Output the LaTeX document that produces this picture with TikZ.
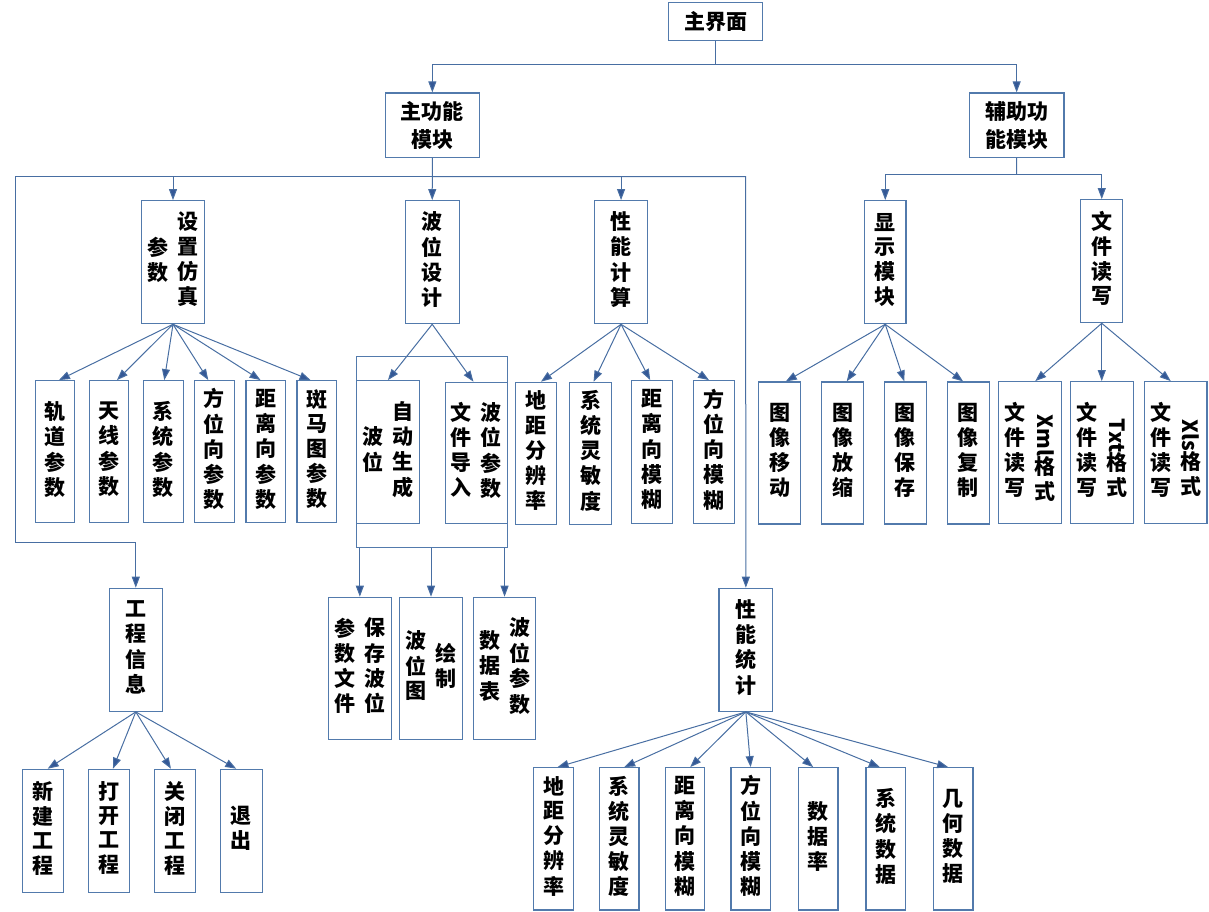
\documentclass[tikz,border=0pt]{standalone}
\usepackage{fontspec}
\newfontfamily\cjk{Noto Sans CJK SC}
\usetikzlibrary{arrows.meta}
\definecolor{lineblue}{RGB}{72,110,162}
\definecolor{tipblue}{RGB}{52,88,150}
\definecolor{boxblue}{RGB}{82,122,172}
\newcommand\vc[1]{\begin{tabular}{@{}c@{}}#1\end{tabular}}
\newcommand\bx[6]{\node[box,minimum width={#4pt-#2pt},minimum height={#5pt-#3pt}] (#1) at ({(#2+#4)/2},{(#3+#5)/2}) {#6};}
\newcommand\twocol[2]{\vc{#1}\hspace{9pt}\vc{#2}}
\newcommand\fan[3]{\draw[arr] (#1.south) -- ([xshift=#3pt]#2.north);}
\begin{document}
\begin{tikzpicture}[x=1pt,y=-1pt,
  box/.style={draw=boxblue,line width=1.2pt,fill=white,inner sep=0pt,align=center,
    font=\cjk\bfseries\fontsize{21}{24}\selectfont},
  arr/.style={draw=lineblue,line width=1pt,-{Triangle[length=11pt,width=8pt,fill=tipblue]}},
  ln/.style={draw=lineblue,line width=1pt}]
\useasboundingbox (0,0) rectangle (1209,912);
% level 0,1
\bx{zjm}{668.3}{2.3}{762.7}{40.3}{主界面}
\node[box,minimum width=94.5pt,minimum height=64.3pt,font=\cjk\bfseries\fontsize{21}{28}\selectfont] (zgn) at (432.35,125.15) {主功能\\模块};
\node[box,minimum width=94.7pt,minimum height=64.3pt,font=\cjk\bfseries\fontsize{21}{28}\selectfont] (fz) at (1016.65,125.15) {辅助功\\能模块};
% level 2
\bx{sz}{141.6}{200.7}{204.4}{323.7}{\twocol{参\\数}{设\\置\\仿\\真}}
\bx{bwsj}{405.3}{200.7}{459.1}{323.7}{\vc{波\\位\\设\\计}}
\bx{xnjs}{594.3}{200.7}{647.8}{323.7}{\vc{性\\能\\计\\算}}
\bx{xsmk}{864.5}{200.7}{906}{323.7}{\vc{显\\示\\模\\块}}
\bx{wjdx}{1080.8}{199.7}{1122.7}{322.7}{\vc{文\\件\\读\\写}}
% level 3
\bx{gd}{35.6}{380.7}{74.3}{522.7}{\vc{轨\\道\\参\\数}}
\bx{tx}{89.4}{380.7}{128.5}{522.7}{\vc{天\\线\\参\\数}}
\bx{xt}{143.5}{380.7}{183.1}{522.7}{\vc{系\\统\\参\\数}}
\bx{fwx}{194.5}{380.7}{234.1}{522.7}{\vc{方\\位\\向\\参\\数}}
\bx{jlx}{246}{380.7}{285.1}{522.7}{\vc{距\\离\\向\\参\\数}}
\bx{bmt}{297}{380.7}{336.1}{522.7}{\vc{斑\\马\\图\\参\\数}}
\bx{cont}{356.7}{356.7}{507.7}{547.3}{}
\bx{zdsc}{356.7}{380.7}{419.1}{523.3}{\twocol{波\\位}{自\\动\\生\\成}}
\bx{wjdr}{445.2}{382.3}{507.7}{523.3}{\twocol{文\\件\\导\\入}{波\\位\\参\\数}}
\bx{dja}{515.2}{382.3}{556.7}{524.3}{\vc{地\\距\\分\\辨\\率}}
\bx{lmda}{569.8}{382.3}{611.3}{524.3}{\vc{系\\统\\灵\\敏\\度}}
\bx{jla}{631.8}{380.7}{672.6}{523.3}{\vc{距\\离\\向\\模\\糊}}
\bx{fwa}{693.2}{380.7}{734.8}{523.3}{\vc{方\\位\\向\\模\\糊}}
\bx{txyd}{758.8}{382}{800.8}{524}{\vc{图\\像\\移\\动}}
\bx{txfs}{821.7}{382}{863.7}{524}{\vc{图\\像\\放\\缩}}
\bx{txbc}{884.3}{382}{926.2}{524}{\vc{图\\像\\保\\存}}
\bx{txfz}{947.2}{382}{989.1}{524}{\vc{图\\像\\复\\制}}
\bx{xml}{998.8}{381.7}{1061.7}{523.3}{\twocol{文\\件\\读\\写}{\rotatebox{-90}{Xml}\\格\\式}}
\bx{txt}{1070.3}{381.7}{1133.2}{523.3}{\twocol{文\\件\\读\\写}{\rotatebox{-90}{Txt}\\格\\式}}
\bx{xls}{1144.5}{381.7}{1207}{523.3}{\twocol{文\\件\\读\\写}{\rotatebox{-90}{Xls}\\格\\式}}
% level 4
\bx{gcxx}{109.1}{588.3}{162.5}{711.3}{\vc{工\\程\\信\\息}}
\bx{bc}{328.6}{597.3}{391.1}{739.7}{\twocol{参\\数\\文\\件}{保\\存\\波\\位}}
\bx{hz}{399.8}{597.3}{462.2}{739.7}{\twocol{波\\位\\图}{绘\\制}}
\bx{sjb}{473.3}{597.3}{535.8}{739.7}{\twocol{数\\据\\表}{波\\位\\参\\数}}
\bx{xntj}{719}{588.3}{772.7}{711.3}{\vc{性\\能\\统\\计}}
% level 5
\bx{xj}{22.1}{769.3}{63.3}{892.3}{\vc{新\\建\\工\\程}}
\bx{dk}{88.2}{769.3}{129.7}{892.3}{\vc{打\\开\\工\\程}}
\bx{gb}{154.2}{769.3}{195.7}{892.3}{\vc{关\\闭\\工\\程}}
\bx{tc}{220.2}{769.3}{262.2}{892.3}{\vc{退\\出}}
\bx{djb}{533.7}{767.7}{573.3}{910}{\vc{地\\距\\分\\辨\\率}}
\bx{lmdb}{599.3}{767.7}{639}{910}{\vc{系\\统\\灵\\敏\\度}}
\bx{jlb}{665.7}{767.7}{704.7}{910}{\vc{距\\离\\向\\模\\糊}}
\bx{fwb}{731}{767.7}{770.3}{910}{\vc{方\\位\\向\\模\\糊}}
\bx{sjl}{798.3}{767.7}{838}{910}{\vc{数\\据\\率}}
\bx{xtsj}{866}{767.7}{905.7}{910}{\vc{系\\统\\数\\据}}
\bx{jhsj}{933.3}{767.7}{973}{910}{\vc{几\\何\\数\\据}}
% bus coordinates
\coordinate (busa) at (715.3,64.7);
\coordinate (busb) at (432.4,176.7);
\coordinate (busc) at (1016.7,174.3);
\coordinate (lft) at (15.8,176.7);
\coordinate (lfb) at (15.8,542.7);
\coordinate (rgt) at (745.6,176.7);
% connectors
\draw[arr] (zjm.south) -- (zjm.south |- busa) -| (zgn.north);
\draw[arr] (zjm.south |- busa) -| (fz.north);
\draw[arr] (zgn.south) -- (bwsj.north);
\draw[arr] (busb) -| (sz.north);
\draw[arr] (busb) -| (xnjs.north);
\draw[arr] (busb) -- (rgt) -- (xntj.north);
\draw[arr] (busb) -- (lft) -- (lfb) -| (gcxx.north);
\draw[ln] (fz.south) -- (busc);
\draw[arr] (busc) -| (xsmk.north);
\draw[arr] (busc) -| (wjdx.north);
\fan{sz}{gd}{4} \fan{sz}{tx}{8} \fan{sz}{xt}{1} \fan{sz}{fwx}{-6} \fan{sz}{jlx}{-5} \fan{sz}{bmt}{-6}
\fan{bwsj}{zdsc}{0} \fan{bwsj}{wjdr}{-3}
\fan{xnjs}{dja}{5} \fan{xnjs}{lmda}{3} \fan{xnjs}{jla}{-2} \fan{xnjs}{fwa}{-5}
\fan{xsmk}{txyd}{6} \fan{xsmk}{txfs}{4} \fan{xsmk}{txbc}{-1} \fan{xsmk}{txfz}{-5}
\fan{wjdx}{xml}{5} \fan{wjdx}{txt}{0} \fan{wjdx}{xls}{-5}
\fan{gcxx}{xj}{5} \fan{gcxx}{dk}{4} \fan{gcxx}{gb}{-4} \fan{gcxx}{tc}{-5}
\fan{xntj}{djb}{4} \fan{xntj}{lmdb}{5} \fan{xntj}{jlb}{5} \fan{xntj}{fwb}{0} \fan{xntj}{sjl}{-5} \fan{xntj}{xtsj}{-6} \fan{xntj}{jhsj}{-5}
\draw[arr] (cont.south -| bc.north) -- (bc.north);
\draw[arr] (cont.south -| hz.north) -- (hz.north);
\draw[arr] (cont.south -| sjb.north) -- (sjb.north);
\end{tikzpicture}
\end{document}
